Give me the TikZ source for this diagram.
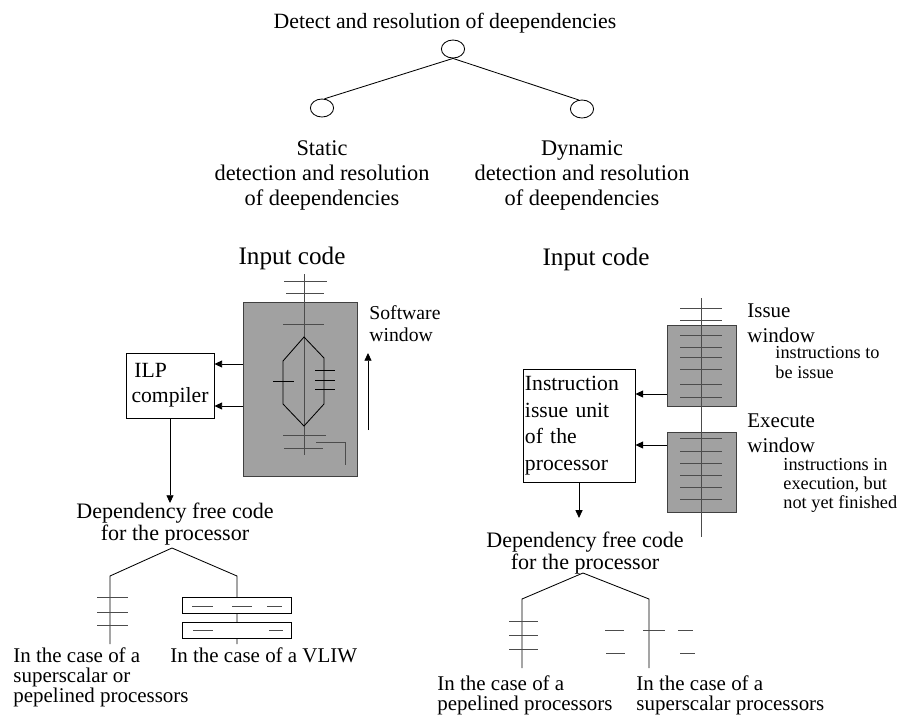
\documentclass[tikz,border=0pt]{standalone}
\usepackage{fontspec}
\setmainfont{Liberation Serif}
\usetikzlibrary{arrows.meta,shapes.geometric}

\tikzset{
  txt/.style={inner sep=0pt, align=center},
  lefttxt/.style={inner sep=0pt, align=left},
  arr/.style={-{Triangle[length=5.5pt,width=5pt]}},
  tick/.style={draw=black!70},
  window/.style={draw=black!75, fill=black!37, inner sep=0pt},
  leaf/.style={ellipse, draw, inner sep=0pt, minimum width=0.58cm, minimum height=0.45cm},
  unitbox/.style={draw, fill=white}
}

\begin{document}
\begin{tikzpicture}[x=0.025cm, y=-0.025cm, line width=0.6pt]

\useasboundingbox (0,0) rectangle (898,718);

% Top tree
\node[txt, anchor=north, font=\fontsize{15.5}{18}\selectfont] (title) at (445,13) {Detect and resolution of deependencies};
\node[leaf] (root) at (453,49) {};
\node[leaf] (lnode) at (322,108) {};
\node[leaf] (rnode) at (582,109) {};
\draw (root.south) -- (lnode.75);
\draw (root.south) -- (rnode.110);

\node[txt, anchor=north, font=\fontsize{15.9}{17.8}\selectfont] (static) at (322,140)
  {Static\\detection and resolution\\of deependencies};
\node[txt, anchor=north, font=\fontsize{15.9}{17.8}\selectfont] (dynamic) at (582,140)
  {Dynamic\\detection and resolution\\of deependencies};

% Static side
\node[txt, anchor=north, font=\fontsize{17.9}{20}\selectfont] (inL) at (292,247) {Input code};
\node[window, minimum width=2.85cm, minimum height=4.35cm] (swin) at (300,389) {};

% code stream in the software window
\draw[tick] (304,274) -- (304,455);
\draw[tick] (284,281) -- (327,281);
\draw[tick] (286,293) -- (324,293);
\draw[tick] (283,324) -- (324,324);
\draw (304,337) -- (283,361) -- (283,404) -- (304,426) -- (324,404) -- (324,358) -- cycle;
\draw (273,381) -- (294,381);
\draw (315,370) -- (335,370);
\draw (315,380) -- (335,380);
\draw (315,389) -- (335,389);
\draw[tick] (283,435) -- (326,435);
\draw[tick] (284,448) -- (323,448);
\draw[tick] (316,442) -- (345,442) -- (345,465);

\node[lefttxt, anchor=north west, font=\fontsize{14}{15.6}\selectfont] (swtxt) at (369,305) {Software\\window};
\coordinate (swbot) at (368,430);
\coordinate (swtop) at (368,353);
\draw[arr] (swbot) -- (swtop);

\node[unitbox, minimum width=2.2cm, minimum height=1.625cm, lefttxt,
  font=\fontsize{15.4}{17.8}\selectfont] (ilp) at (170,385.5) {\hspace{2pt}ILP\\compiler};
\draw[arr] (swin.west |- 0,364) -- (ilp.east |- 0,364);
\draw[arr] (swin.west |- 0,406) -- (ilp.east |- 0,406);

\node[txt, anchor=north, font=\fontsize{15.7}{15}\selectfont] (depL) at (175,503)
  {Dependency free code\\for the processor};
\draw[arr] (ilp.south) -- (ilp.south |- depL.north);

% Static: two kinds of processors
\coordinate (apL) at (172,548);
\draw (110,644) -- (110,576) -- (apL) -- (237,576) -- (237,644);
\draw[tick] (97,597) -- (128,597);
\draw[tick] (97,612) -- (128,612);
\draw[tick] (97,625) -- (128,625);
\draw[unitbox] (182,597) rectangle (291,613);
\draw[unitbox] (182,622) rectangle (291,638);
\draw[tick] (192,606) -- (213,606);
\draw[tick] (232,606) -- (252,606);
\draw[tick] (267,606) -- (282,606);
\draw[tick] (193,630) -- (213,630);
\draw[tick] (269,630) -- (283,630);

\node[lefttxt, anchor=north west, font=\fontsize{14.9}{14.2}\selectfont] (supL) at (13,647)
  {In the case of a\\superscalar or\\pepelined processors};
\node[lefttxt, anchor=north west, font=\fontsize{14.9}{14.2}\selectfont] (vliw) at (170,647)
  {In the case of a VLIW};

% Dynamic side
\node[txt, anchor=north, font=\fontsize{17.9}{20}\selectfont] (inR) at (596,248) {Input code};
\node[window, minimum width=1.725cm, minimum height=2.025cm] (iwin) at (701.5,365.5) {};
\node[window, minimum width=1.725cm, minimum height=2cm] (ewin) at (701.5,472) {};

\draw[tick] (701,298) -- (701,537);
\foreach \y in {308,320,335,347,357,369,384,397,438,451,463,475,487,499}
  \draw[tick] (680,\y) -- (722,\y);

\node[lefttxt, anchor=north west, font=\fontsize{14.9}{17.8}\selectfont] (iwtxt) at (747,303) {Issue\\window};
\node[lefttxt, anchor=north west, font=\fontsize{13}{14}\selectfont] (iwnote) at (775,346) {instructions to\\be issue};
\node[lefttxt, anchor=north west, font=\fontsize{14.9}{17.8}\selectfont] (ewtxt) at (747,413) {Execute\\window};
\node[lefttxt, anchor=north west, font=\fontsize{13}{13.5}\selectfont] (ewnote) at (783,458) {instructions in\\execution, but\\not yet finished};

\node[unitbox, minimum width=2.8cm, minimum height=2.825cm, lefttxt, text width=2.7cm,
  inner xsep=0.05cm, font=\fontsize{15.4}{18.8}\selectfont] (iu) at (579,425.5)
  {Instruction\\issue unit\\of the\\processor};
\draw[arr] (iwin.west |- 0,394) -- (iu.east |- 0,394);
\draw[arr] (ewin.west |- 0,445) -- (iu.east |- 0,445);

\node[txt, anchor=north, font=\fontsize{15.7}{15.6}\selectfont] (depR) at (585,532)
  {Dependency free code\\for the processor};
\draw[arr] (iu.south) -- ([yshift=10pt]iu.south |- depR.north);

% Dynamic: two kinds of processors
\coordinate (apR) at (583,573);
\draw (522,668) -- (522,599) -- (apR) -- (649,599) -- (649,668);
\draw[tick] (509,621) -- (538,621);
\draw[tick] (509,635) -- (538,635);
\draw[tick] (509,649) -- (538,649);
\draw[tick] (605,630) -- (624,630);
\draw[tick] (643,630) -- (665,630);
\draw[tick] (678,630) -- (693,630);
\draw[tick] (606,653) -- (625,653);
\draw[tick] (680,653) -- (695,653);

\node[lefttxt, anchor=north west, font=\fontsize{14.9}{14.2}\selectfont] (pipR) at (437,675)
  {In the case of a\\pepelined processors};
\node[lefttxt, anchor=north west, font=\fontsize{14.9}{14.2}\selectfont] (supR) at (636,675)
  {In the case of a\\superscalar processors};

\end{tikzpicture}
\end{document}
